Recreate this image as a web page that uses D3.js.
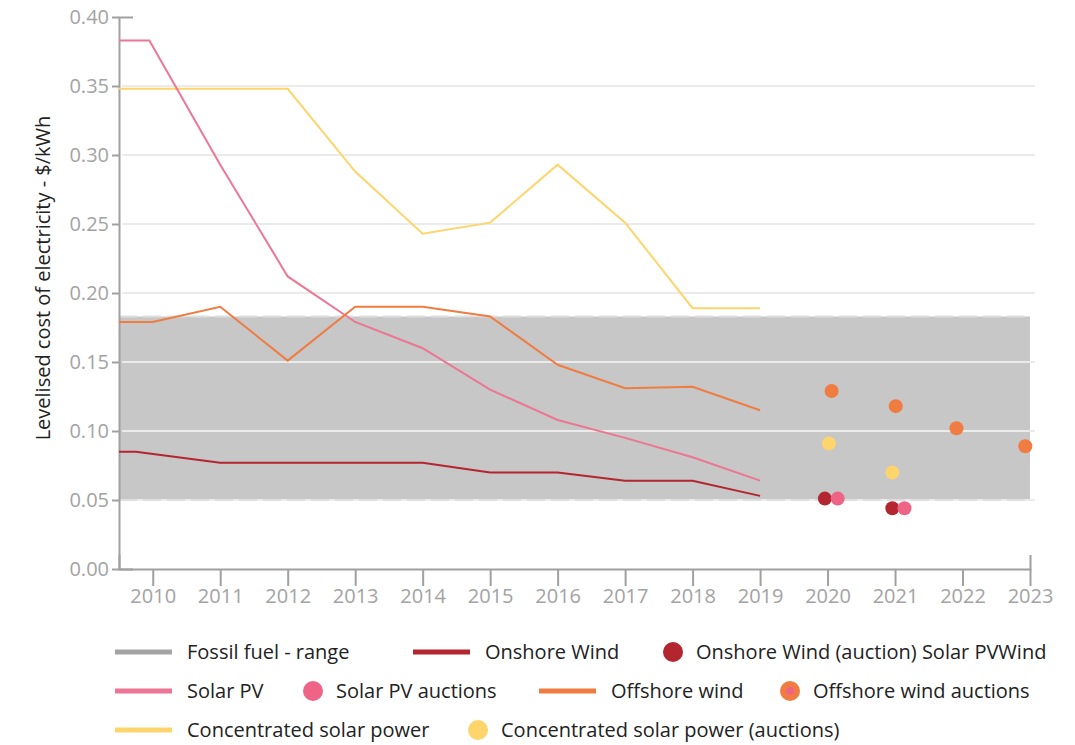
<!DOCTYPE html>
<html>
<head>
<meta charset="utf-8">
<script src="https://cdn.jsdelivr.net/npm/d3@7"></script>
<style>
  body { margin: 0; background: #fff; }
  svg { font-family: "Open Sans", Lato, sans-serif; }
</style>
</head>
<body>
<svg id="chart" width="1075" height="745"></svg>
<script>
// Series values: [year, $/kWh]
const onshoreWind = [[2009.5, 0.085], [2009.75, 0.085], [2011, 0.077], [2012, 0.077], [2013, 0.077],
    [2014, 0.077], [2015, 0.070], [2016, 0.070], [2017, 0.064], [2018, 0.064], [2019, 0.053]];
const solarPV = [[2009.5, 0.383], [2009.95, 0.383], [2011, 0.293], [2012, 0.212], [2013, 0.179],
    [2014, 0.160], [2015, 0.130], [2016, 0.108], [2017, 0.095], [2018, 0.081], [2019, 0.064]];
const offshoreWind = [[2009.5, 0.179], [2010, 0.179], [2011, 0.190], [2012, 0.151], [2013, 0.190],
    [2014, 0.190], [2015, 0.183], [2016, 0.148], [2017, 0.131], [2018, 0.132], [2019, 0.115]];
const csp = [[2009.5, 0.348], [2012, 0.348], [2013, 0.288], [2014, 0.243], [2015, 0.251],
    [2016, 0.293], [2017, 0.251], [2018, 0.189], [2019, 0.189]];

const onshoreAuctions = [[2019.96, 0.051], [2020.96, 0.044]];
const solarAuctions = [[2020.15, 0.051], [2021.14, 0.044]];
const cspAuctions = [[2020.02, 0.091], [2020.96, 0.070]];
const offshoreAuctions = [[2020.06, 0.129], [2021.01, 0.118], [2021.91, 0.102], [2022.93, 0.089]];

// Fossil fuel range band
const fossilRange = [[2009.5, 0.05, 0.183], [2023, 0.05, 0.183]];

const xTicks = d3.range(2010, 2024);
const yTicks = [0, 0.05, 0.10, 0.15, 0.20, 0.25, 0.30, 0.35, 0.40];
const gridTicks = [0.05, 0.10, 0.15, 0.20, 0.25, 0.30, 0.35];

const colors = {
    fossil: "#a3a3a3",
    onshore: "#b3252f",
    solar: "#ec7694",
    solarDot: "#ee6487",
    offshore: "#f07c42",
    csp: "#fdd56c"
};

const svg = d3.select("#chart");

const x = d3.scaleLinear().domain([2009.5, 2023]).range([119, 1030]);
const y = d3.scaleLinear().domain([0, 0.4]).range([569, 17]);

// fossil band
svg.append("path")
    .datum(fossilRange)
    .attr("fill", "#c6c7c6")
    .attr("d", d3.area().x(d => x(d[0])).y0(d => y(d[1])).y1(d => y(d[2])));

// gridlines
svg.append("g")
    .selectAll("line")
    .data(gridTicks)
    .join("line")
    .attr("x1", 122)
    .attr("x2", 1035)
    .attr("y1", d => y(d))
    .attr("y2", d => y(d))
    .attr("stroke", "#ebebeb")
    .attr("stroke-width", 2);

// dashed band edges
svg.append("g")
    .selectAll("line")
    .data([fossilRange[0][1], fossilRange[0][2]])
    .join("line")
    .attr("x1", x(fossilRange[0][0]))
    .attr("x2", x(fossilRange[1][0]))
    .attr("y1", d => y(d))
    .attr("y2", d => y(d))
    .attr("stroke", "#dedede")
    .attr("stroke-width", 2)
    .attr("stroke-dasharray", "18,6");

// axes
const xAxis = d3.axisBottom(x)
    .tickValues(xTicks)
    .tickFormat(d3.format("d"))
    .tickSize(17)
    .tickSizeOuter(-14);

const gx = svg.append("g")
    .attr("transform", `translate(0,${y(0)})`)
    .call(xAxis);

const yAxis = d3.axisLeft(y)
    .tickValues(yTicks)
    .tickFormat(d3.format(".2f"))
    .tickSize(7)
    .tickSizeOuter(-14);

const gy = svg.append("g")
    .attr("transform", `translate(${x(2009.5)},0)`)
    .call(yAxis);

[gx, gy].forEach(g => {
    g.selectAll("path, line").attr("stroke", "#a0a0a0").attr("stroke-width", 2);
    g.selectAll("text").attr("fill", "#a3a3a3").style("font-size", "20px")
        .style("font-family", "Open Sans, sans-serif");
});

svg.append("text")
    .attr("transform", "rotate(-90)")
    .attr("x", -278)
    .attr("y", 50)
    .attr("text-anchor", "middle")
    .style("fill", "#222")
    .style("font-size", "20px")
    .text("Levelised cost of electricity - $/kWh");

// lines
const line = d3.line().x(d => x(d[0])).y(d => y(d[1]));
[[csp, colors.csp], [solarPV, colors.solar], [offshoreWind, colors.offshore], [onshoreWind, colors.onshore]]
    .forEach(([data, c]) => {
        svg.append("path")
            .datum(data)
            .attr("fill", "none")
            .attr("stroke", c)
            .attr("stroke-width", 2)
            .attr("d", line);
    });

// auction points
[[offshoreAuctions, colors.offshore], [cspAuctions, colors.csp], [onshoreAuctions, colors.onshore], [solarAuctions, colors.solarDot]]
    .forEach(([data, c]) => {
        svg.append("g")
            .selectAll("circle")
            .data(data)
            .join("circle")
            .attr("cx", d => x(d[0]))
            .attr("cy", d => y(d[1]))
            .attr("r", 7)
            .attr("fill", c);
    });

// legend
const legendItems = [
    {type: "line", label: "Fossil fuel - range", color: colors.fossil, x: 115, y: 652},
    {type: "line", label: "Onshore Wind", color: colors.onshore, x: 413, y: 652},
    {type: "dot", label: "Onshore Wind (auction) Solar PVWind", color: colors.onshore, x: 673, y: 652},
    {type: "line", label: "Solar PV", color: colors.solar, x: 115, y: 691},
    {type: "dot", label: "Solar PV auctions", color: colors.solarDot, x: 313, y: 691},
    {type: "line", label: "Offshore wind", color: colors.offshore, x: 539, y: 691},
    {type: "dot2", label: "Offshore wind auctions", color: colors.offshore, x: 790, y: 691},
    {type: "line", label: "Concentrated solar power", color: colors.csp, x: 115, y: 730},
    {type: "dot", label: "Concentrated solar power (auctions)", color: colors.csp, x: 478, y: 730}
];

const legend = svg.append("g");
legendItems.forEach(d => {
    const g = legend.append("g").attr("transform", `translate(${d.x},${d.y})`);
    let tx;
    if (d.type === "line") {
        g.append("rect").attr("x", 0).attr("y", -2.5).attr("width", 57).attr("height", 5).attr("fill", d.color);
        tx = 72;
    } else {
        g.append("circle").attr("r", 10).attr("fill", d.color);
        if (d.type === "dot2") g.append("circle").attr("r", 4).attr("fill", colors.solarDot);
        tx = 23;
    }
    g.append("text")
        .attr("x", tx)
        .attr("dy", "0.35em")
        .style("font-size", "20px")
        .style("fill", "#222")
        .text(d.label);
});
</script>
</body>
</html>
